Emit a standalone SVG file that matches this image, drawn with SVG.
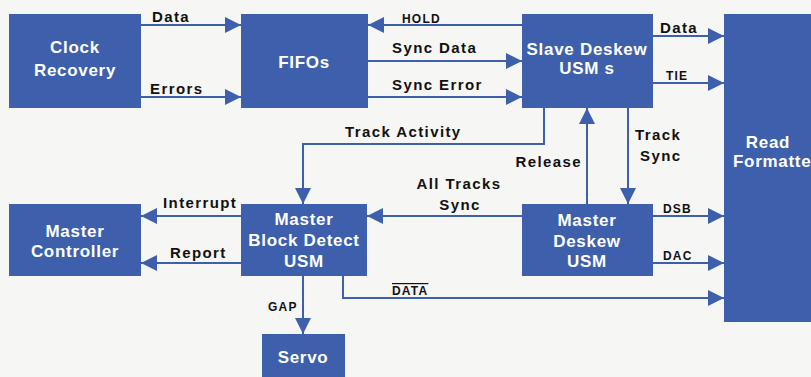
<svg xmlns="http://www.w3.org/2000/svg" width="811" height="377" viewBox="0 0 811 377">
<style>
.box{fill:#3e5fab}
.bt{fill:#ffffff;font-family:"Liberation Sans",Arial,sans-serif;font-weight:bold;font-size:17px;letter-spacing:0.7px;text-anchor:middle}
.lb{fill:#111111;font-family:"Liberation Sans",Arial,sans-serif;font-weight:bold;font-size:15px;letter-spacing:1.4px}
.sm{fill:#111111;font-family:"Liberation Sans",Arial,sans-serif;font-weight:bold;font-size:12px;letter-spacing:1.2px}
.ln{fill:none;stroke:#3e5fab;stroke-width:2;marker-end:url(#ah)}
</style>
<defs>
<marker id="ah" markerUnits="userSpaceOnUse" markerWidth="16" markerHeight="16" refX="16" refY="8" orient="auto">
<path d="M0,0 L16,8 L0,16 z" fill="#3e5fab"/>
</marker>
</defs>
<rect width="811" height="377" fill="#f6f6f4"/>
<g id="connectors">
<path class="ln" d="M141,25 H241"/>
<path class="ln" d="M141,97 H241"/>
<path class="ln" d="M522,25 H368"/>
<path class="ln" d="M368,61 H522"/>
<path class="ln" d="M368,97 H522"/>
<path class="ln" d="M653,36 H724"/>
<path class="ln" d="M653,83 H724"/>
<path class="ln" d="M544,108 V144 H303 V204"/>
<path class="ln" d="M587,204 V108"/>
<path class="ln" d="M628,108 V204"/>
<path class="ln" d="M522,216 H367"/>
<path class="ln" d="M653,216 H724"/>
<path class="ln" d="M653,263 H724"/>
<path class="ln" d="M343,276 V298 H724"/>
<path class="ln" d="M241,216 H141"/>
<path class="ln" d="M241,263 H141"/>
<path class="ln" d="M303,276 V334"/>
<text class="lb" x="152" y="22">Data</text>
<text class="lb" x="150" y="94">Errors</text>
<text class="sm" x="402" y="23">HOLD</text>
<text class="lb" x="392" y="53">Sync Data</text>
<text class="lb" x="392" y="90">Sync Error</text>
<text class="lb" x="660" y="33">Data</text>
<text class="sm" x="666" y="80">TIE</text>
<text class="lb" x="345" y="137">Track Activity</text>
<text class="lb" x="582" y="167" style="text-anchor:end">Release</text>
<text class="lb" x="635" y="140">Track</text>
<text class="lb" x="640" y="161">Sync</text>
<text class="lb" x="459" y="189" style="text-anchor:middle">All Tracks</text>
<text class="lb" x="460" y="210" style="text-anchor:middle">Sync</text>
<text class="lb" x="163" y="208">Interrupt</text>
<text class="lb" x="170" y="258">Report</text>
<text class="sm" x="268" y="311">GAP</text>
<text class="sm" x="663" y="213">DSB</text>
<text class="sm" x="663" y="260">DAC</text>
<text class="sm" x="392" y="295" text-decoration="overline">DATA</text>
</g>
<g id="clock-recovery">
<rect class="box" x="9" y="14" width="132" height="94"/>
<text class="bt" x="75" y="53">Clock</text>
<text class="bt" x="75" y="76">Recovery</text>
</g>
<g id="fifos">
<rect class="box" x="241" y="14" width="127" height="94"/>
<text class="bt" x="304" y="68">FIFOs</text>
</g>
<g id="slave-deskew">
<rect class="box" x="522" y="14" width="131" height="94"/>
<text class="bt" x="587" y="55">Slave Deskew</text>
<text class="bt" x="587" y="74">USM s</text>
</g>
<g id="read-formatter">
<rect class="box" x="724" y="14" width="90" height="308"/>
<text class="bt" x="768" y="148">Read</text>
<text class="bt" x="733" y="167" style="text-anchor:start">Formatter</text>
</g>
<g id="master-controller">
<rect class="box" x="9" y="204" width="132" height="72"/>
<text class="bt" x="75" y="237">Master</text>
<text class="bt" x="75" y="257">Controller</text>
</g>
<g id="master-block-detect">
<rect class="box" x="241" y="204" width="126" height="72"/>
<text class="bt" x="304" y="225">Master</text>
<text class="bt" x="304" y="246">Block Detect</text>
<text class="bt" x="304" y="267">USM</text>
</g>
<g id="master-deskew">
<rect class="box" x="522" y="204" width="131" height="72"/>
<text class="bt" x="587" y="226">Master</text>
<text class="bt" x="587" y="247">Deskew</text>
<text class="bt" x="587" y="267">USM</text>
</g>
<g id="servo">
<rect class="box" x="262" y="334" width="83" height="50"/>
<text class="bt" x="303" y="363">Servo</text>
</g>
</svg>
